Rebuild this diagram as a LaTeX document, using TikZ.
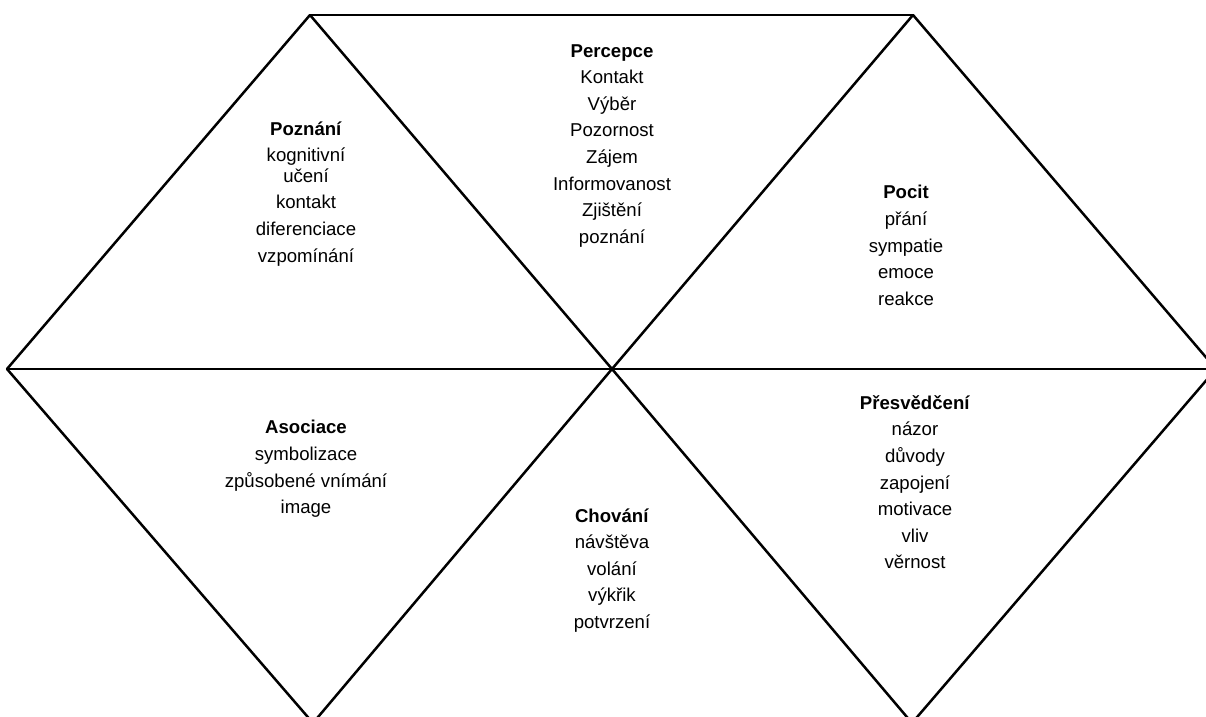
\documentclass[tikz,border=0pt]{standalone}
\usepackage{fontspec}
\setmainfont{Liberation Sans}
\usetikzlibrary{positioning}
\tikzset{edge/.style={line width=1.25pt,line cap=round,draw=black},
  field/.style={align=center,inner sep=0pt,anchor=north,
  font=\fontsize{9.3}{13.3}\selectfont}}

\begin{document}
\begin{tikzpicture}[x=0.5pt,y=-0.5pt]
\useasboundingbox (0,0) rectangle (1206,717);
\clip (0,0) rectangle (1206,717);
\coordinate (tl) at (310,15);
\coordinate (tr) at (913,15);
\coordinate (lv) at (7,369);
\coordinate (cv) at (612,369);
\coordinate (rv) at (1216,369);
\coordinate (bl) at (313,723);
\coordinate (br) at (912,723);
\foreach \a/\b in {tl/tr,tl/lv,tl/cv,tr/cv,tr/rv,lv/cv,cv/rv,lv/bl,cv/bl,cv/br,rv/br}
\draw[edge] (\a)--(\b);
\node[field] (percepce) at (612,44) {\textbf{Percepce}\\Kontakt\\Výběr\\Pozornost\\Zájem\\Informovanost\\Zjištění\\poznání};
\node[field] (poznani) at (306,121) {\textbf{Poznání}\\kognitivní\\[-3pt]učení\\kontakt\\diferenciace\\vzpomínání};
\node[field] (pocit) at (906,185) {\textbf{Pocit}\\přání\\sympatie\\emoce\\reakce};
\node[field] (asociace) at (306,420) {\textbf{Asociace}\\symbolizace\\způsobené vnímání\\image};
\node[field] (chovani) at (612,508) {\textbf{Chování}\\návštěva\\volání\\výkřik\\potvrzení};
\node[field] (presvedceni) at (915,395) {\textbf{Přesvědčení}\\názor\\důvody\\zapojení\\motivace\\vliv\\věrnost};
\end{tikzpicture}
\end{document}
